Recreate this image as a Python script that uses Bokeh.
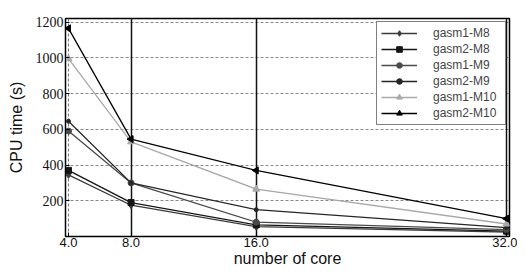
import math
from bokeh.plotting import figure
from bokeh.models import Range1d, FixedTicker, Grid, Legend, LegendItem
from bokeh.embed import file_html
from bokeh.resources import INLINE

cores = [4, 8, 16, 32]
series_names = ["gasm1-M8", "gasm2-M8", "gasm1-M9", "gasm2-M9", "gasm1-M10", "gasm2-M10"]
gasm1_M8 = [345, 175, 55, 25]
gasm2_M8 = [370, 190, 65, 30]
gasm1_M9 = [590, 300, 80, 38]
gasm2_M9 = [645, 300, 150, 50]
gasm1_M10 = [995, 530, 265, 70]
gasm2_M10 = [1165, 545, 370, 100]
y_ticks = [200, 400, 600, 800, 1000, 1200]

series = [gasm1_M8, gasm2_M8, gasm1_M9, gasm2_M9, gasm1_M10, gasm2_M10]
markers = ["diamond", "square", "circle", "circle", "triangle", "triangle"]
angles = [0, 0, 0, 0, 0, math.pi / 2]
sizes = [7, 6, 6, 4, 7, 7]
colors = ["#3a3a3a", "#151515", "#4a4a4a", "#262626", "#a8a8a8", "#000000"]

p = figure(width=517, height=269, output_backend="svg", toolbar_location=None,
           x_range=Range1d(3.81, 32.19), y_range=Range1d(0, 1220),
           min_border_left=65, min_border_right=8, min_border_top=18, min_border_bottom=28)
p.outline_line_color = "black"
p.outline_line_width = 1.5
p.background_fill_color = "white"
p.border_fill_color = "white"

for ax in (p.xaxis[0], p.yaxis[0]):
    ax.axis_line_color = "black"
    ax.major_tick_in = 4
    ax.major_tick_out = 0
    ax.minor_tick_line_color = None
    ax.axis_label_text_font_style = "normal"
    ax.axis_label_text_font = "Liberation Sans"
    ax.axis_label_text_font_size = "16px"
    ax.axis_label_text_color = "#111111"
    ax.major_label_text_color = "#111111"

p.xaxis.ticker = FixedTicker(ticks=cores)
p.xaxis.major_label_overrides = {c: f"{c:.1f}" for c in cores}
p.xaxis.major_label_text_font = "Liberation Sans"
p.xaxis.major_label_text_font_size = "13px"
p.xaxis.major_label_standoff = 1
p.xaxis.axis_label = "number of core"
p.xaxis.axis_label_standoff = 0

p.yaxis.ticker = FixedTicker(ticks=y_ticks)
p.yaxis.major_label_text_font = "Liberation Serif"
p.yaxis.major_label_text_font_size = "14px"
p.yaxis.major_label_standoff = 2
p.yaxis.axis_label = "CPU time (s)"
p.yaxis.axis_label_standoff = 8

p.xgrid.ticker = FixedTicker(ticks=cores[:1])
p.xgrid.grid_line_color = "#777777"
p.xgrid.grid_line_dash = "3 2"
p.ygrid.ticker = FixedTicker(ticks=y_ticks)
p.ygrid.grid_line_color = "#888888"
p.ygrid.grid_line_dash = "3 2"
solid = Grid(dimension=0, ticker=FixedTicker(ticks=cores[1:]),
             grid_line_color="#111111", grid_line_width=1.5)
p.add_layout(solid)

items = []
for name, ys, m, a, s, c in zip(series_names, series, markers, angles, sizes, colors):
    r1 = p.line(cores, ys, line_color=c, line_width=1.3)
    r2 = p.scatter(cores, ys, marker=m, angle=a, size=s, fill_color=c, line_color=c)
    items.append(LegendItem(label=name, renderers=[r1, r2]))

legend = Legend(items=items, location="top_right", glyph_width=36, glyph_height=14,
                label_text_font="Liberation Sans", label_text_font_size="12px",
                label_height=14, label_width=68, spacing=2, padding=4, margin=3,
                border_line_color="black", border_line_width=1.5,
                label_standoff=16, background_fill_alpha=1.0)
p.add_layout(legend)

open("out.html", "w").write(file_html(p, INLINE))
